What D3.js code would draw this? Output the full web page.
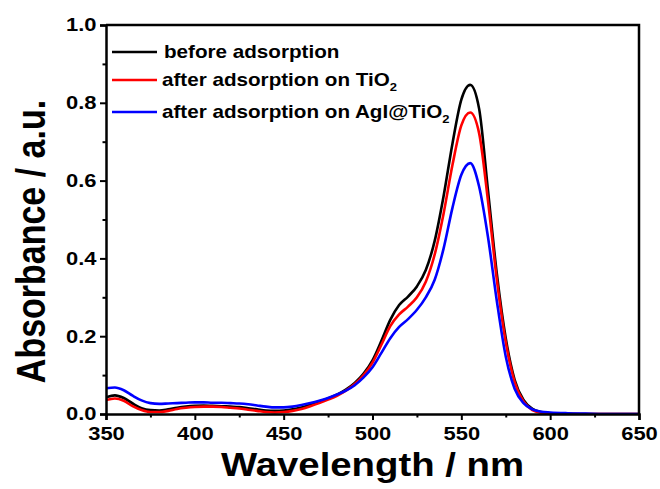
<!DOCTYPE html>
<html>
<head>
<meta charset="utf-8">
<script src="https://d3js.org/d3.v7.min.js"></script>
<style>
  html, body { margin: 0; padding: 0; background: #fff; }
  svg { display: block; }
  text { font-family: "Liberation Sans", Arial, sans-serif; font-weight: bold; }
</style>
</head>
<body>
<div id="chart"></div>
<script>
// wavelength (nm) and absorbance values
const wavelengths = [350, 355, 360, 365, 370, 375, 380, 385, 390, 395,
    400, 405, 410, 415, 420, 425, 430, 435, 440, 445,
    450, 455, 460, 465, 470, 475, 480, 485, 490, 495,
    500, 505, 510, 515, 520, 525, 530, 535, 540, 545,
    550, 555, 560, 565, 570, 575, 580, 585, 590, 595,
    600, 610, 620, 630, 640, 650];

const absBefore = [.043, .048, .041, .027, .015, .010, .009, .012, .016, .019,
    .021, .022, .021, .020, .019, .018, .015, .012, .009, .008,
    .009, .012, .017, .024, .032, .040, .050, .063, .080, .104,
    .138, .188, .242, .280, .302, .328, .370, .445, .560, .695,
    .808, .846, .785, .575, .360, .195, .088, .036, .013, .005,
    .002, .001, 0, 0, 0, 0];

const absTiO2 = [.036, .040, .034, .020, .010, .005, .005, .008, .013, .016,
    .018, .019, .019, .018, .016, .014, .011, .008, .005, .004,
    .005, .008, .013, .020, .028, .037, .047, .060, .077, .100,
    .132, .178, .226, .256, .276, .300, .340, .410, .515, .640,
    .742, .775, .722, .548, .345, .185, .082, .032, .010, .003,
    .001, 0, 0, 0, 0, 0];

const absAgI = [.066, .068, .061, .047, .035, .028, .026, .027, .028, .029,
    .030, .030, .029, .029, .028, .027, .025, .022, .019, .017,
    .017, .019, .023, .028, .034, .041, .050, .060, .074, .094,
    .120, .157, .195, .224, .244, .268, .300, .345, .425, .530,
    .615, .645, .585, .455, .290, .148, .065, .028, .012, .006,
    .004, .002, .001, 0, 0, 0];

const seriesNames = ["before adsorption", "after adsorption on TiO", "after adsorption on AgI@TiO"];
const seriesSub = ["", "2", "2"];
const seriesColors = ["#000000", "#ff0000", "#0000ff"];

const xMajor = [350, 400, 450, 500, 550, 600, 650];
const xMinor = [375, 425, 475, 525, 575, 625];
const yMajor = [0, 0.2, 0.4, 0.6, 0.8, 1.0];
const yMinor = [0.1, 0.3, 0.5, 0.7, 0.9];

const W = 660, H = 489;
const plot = {left: 106, right: 639, top: 25, bottom: 414};
const stretch = 1.18; // the original figure is a bit wider than tall

const svg = d3.select("#chart").append("svg")
    .attr("width", W)
    .attr("height", H);

svg.append("rect").attr("width", W).attr("height", H).attr("fill", "#fff");

const x = d3.scaleLinear().domain([350, 650]).range([plot.left, plot.right]);
const y = d3.scaleLinear().domain([0, 1.0]).range([plot.bottom, plot.top]);

svg.append("clipPath").attr("id", "clip")
  .append("rect")
    .attr("x", plot.left).attr("y", plot.top - 2)
    .attr("width", plot.right - plot.left).attr("height", plot.bottom - plot.top + 2);

// spectra
const series = [absBefore, absTiO2, absAgI];
const line = d3.line()
    .x(d => x(d[0]))
    .y(d => y(d[1]))
    .curve(d3.curveMonotoneX);

svg.append("g")
    .attr("clip-path", "url(#clip)")
  .selectAll("path")
  .data(series)
  .join("path")
    .attr("fill", "none")
    .attr("stroke", (d, i) => seriesColors[i])
    .attr("stroke-width", 2.6)
    .attr("stroke-linejoin", "round")
    .attr("d", s => line(wavelengths.map((w, i) => [w, s[i]])));

// frame (top and right)
svg.append("path")
    .attr("fill", "none")
    .attr("stroke", "#000")
    .attr("stroke-width", 2.5)
    .attr("d", `M${plot.left},${plot.top}H${plot.right}V${plot.bottom}`);

// axes
function styleAxis(g) {
    g.select(".domain").attr("stroke-width", 2.5);
    g.selectAll(".tick line").attr("stroke-width", 2);
}

function styleLabels(g) {
    g.selectAll("text")
        .attr("font-size", 18.6)
        .attr("font-weight", "bold")
        .attr("fill", "#000")
        .attr("font-family", "Liberation Sans, Arial, sans-serif")
        .attr("transform", `scale(${stretch},1)`);
}

svg.append("g")
    .attr("transform", `translate(0,${plot.bottom})`)
    .call(d3.axisBottom(x).tickValues(xMajor).tickSize(6).tickPadding(7).tickFormat(d3.format("d")))
    .call(styleAxis)
    .call(styleLabels);

svg.append("g")
    .attr("transform", `translate(0,${plot.bottom})`)
    .call(d3.axisBottom(x).tickValues(xMinor).tickSize(3.5).tickFormat(""))
    .call(g => g.select(".domain").remove())
    .call(styleAxis);

svg.append("g")
    .attr("transform", `translate(${plot.left},0)`)
    .call(d3.axisLeft(y).tickValues(yMajor).tickSize(6).tickPadding(2).tickFormat(d3.format(".1f")))
    .call(styleAxis)
    .call(styleLabels);

svg.append("g")
    .attr("transform", `translate(${plot.left},0)`)
    .call(d3.axisLeft(y).tickValues(yMinor).tickSize(3.5).tickFormat(""))
    .call(g => g.select(".domain").remove())
    .call(styleAxis);

// axis titles
svg.append("text")
    .attr("transform", `translate(${(plot.left + plot.right) / 2},476) scale(${stretch},1)`)
    .attr("text-anchor", "middle")
    .attr("font-size", 32.5)
    .text("Wavelength / nm");

svg.append("text")
    .attr("transform", `translate(45,${(plot.top + plot.bottom) / 2 + 22}) scale(${stretch},1) rotate(-90)`)
    .attr("text-anchor", "middle")
    .attr("font-size", 34)
    .text("Absorbance / a.u.");

// legend
const legendY = [52, 80, 112];
const legend = svg.append("g")
  .selectAll("g")
  .data(seriesNames)
  .join("g")
    .attr("transform", (d, i) => `translate(0,${legendY[i]})`);

legend.append("line")
    .attr("x1", 112).attr("x2", 157)
    .attr("stroke", (d, i) => seriesColors[i])
    .attr("stroke-width", 2.6);

const lt = legend.append("text")
    .attr("transform", (d, i) => `translate(${i === 0 ? 164 : 162},6) scale(${stretch},1)`)
    .attr("font-size", 17.5);
lt.append("tspan").text(d => d);
lt.append("tspan")
    .attr("font-size", 11)
    .attr("dy", 5)
    .text((d, i) => seriesSub[i]);
</script>
</body>
</html>
